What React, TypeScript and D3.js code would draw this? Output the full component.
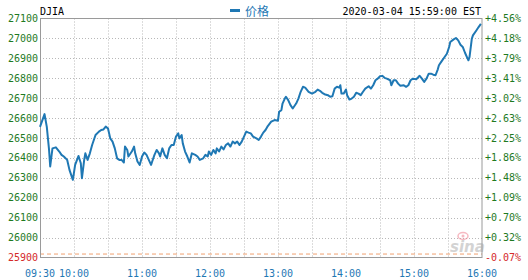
import React from "react";
import * as d3 from "d3";

// minutes since 09:30
const minutes = [0,4,6,8,9,11,14,17,19,21,24,26,29,31,34,36,37,39,40,42,44,46,49,52,54,56,58,60,62,64,66,68,70,72,74,75,77,78,81,83,84,86,88,90,92,94,96,98,99,101,103,105,106,108,110,112,114,116,118,120,122,123,125,126,128,130,132,134,137,139,141,144,146,148,149,151,153,155,156,158,160,162,164,166,168,170,172,174,176,178,180,182,184,186,188,191,193,195,197,199,201,204,207,210,211,213,214,216,217,219,221,223,226,228,230,232,234,237,240,243,245,247,249,251,254,256,258,260,262,264,265,266,268,270,271,273,275,277,279,281,283,285,287,290,292,294,296,298,300,302,304,306,309,310,312,314,316,318,321,323,325,327,329,332,334,335,337,339,341,343,345,347,349,351,352,354,357,359,361,362,365,367,369,371,373,375,377,378,379,381,382,385,387,389];
const prices = [26556,26620,26556,26440,26357,26448,26453,26432,26415,26407,26390,26340,26290,26365,26410,26373,26298,26390,26423,26390,26423,26465,26515,26532,26540,26543,26557,26548,26498,26482,26448,26398,26390,26390,26377,26457,26440,26407,26432,26457,26423,26382,26365,26407,26427,26415,26390,26365,26382,26415,26440,26423,26407,26448,26415,26398,26448,26465,26465,26507,26523,26498,26515,26473,26432,26407,26377,26423,26415,26407,26390,26398,26415,26407,26432,26415,26440,26423,26448,26432,26457,26443,26465,26473,26457,26482,26473,26482,26465,26482,26507,26532,26527,26523,26507,26498,26490,26507,26527,26540,26560,26582,26590,26587,26632,26640,26673,26698,26707,26690,26665,26648,26673,26698,26732,26757,26753,26732,26723,26732,26743,26737,26727,26720,26715,26707,26710,26748,26757,26753,26765,26723,26723,26743,26715,26693,26698,26707,26727,26723,26715,26732,26748,26760,26748,26765,26790,26798,26810,26812,26802,26798,26790,26765,26790,26790,26773,26762,26765,26757,26765,26790,26798,26795,26807,26812,26798,26782,26798,26823,26823,26818,26815,26845,26865,26882,26907,26923,26957,26982,26995,27002,26990,26968,26957,26928,26902,26890,26907,26998,27015,27040,27057,27073];

const prevClose = 25917.41;
const yTicks = [25900,26000,26100,26200,26300,26400,26500,26600,26700,26800,26900,27000,27100];
const xTickMinutes = [0,30,90,150,210,270,330,390];
const xTickLabels = ["09:30","10:00","11:00","12:00","13:00","14:00","15:00","16:00"];
const xGridMinutes = [30,60,90,120,150,180,210,240,270,300,330,360];
const title = "DJIA";
const legendLabel = "价格";
const timestamp = "2020-03-04 15:59:00 EST";

const W = 528, H = 280;
const L = 40, R = 482, T = 18.5, B = 257.5;
const mono = "'DejaVu Sans Mono', 'Liberation Mono', monospace";
const green = "#1f7a1f";
const red = "#d42a2a";
const blue = "#1f78b4";

export default function App() {
  const x = d3.scaleLinear().domain([0, 390]).range([L, R]);
  const y = d3.scaleLinear().domain([25900, 27100]).range([B, T]);
  const data = minutes.map((m, i) => ({ m, v: prices[i] }));
  const line = d3.line<{ m: number; v: number }>().x(d => x(d.m)).y(d => y(d.v));
  const pct = (v: number) => {
    const p = ((v - prevClose) / prevClose) * 100;
    return (p >= 0 ? "+" : "") + p.toFixed(2) + "%";
  };
  return (
    <svg width={W} height={H} style={{ position: "absolute", left: 0, top: 0, background: "#fff" }}>
      <rect x={0} y={0} width={W} height={H} fill="#fff" />
      {/* grid */}
      {yTicks.slice(1, -1).map(t => (
        <line key={"h" + t} x1={L} x2={R} y1={Math.round(y(t)) + 0.5} y2={Math.round(y(t)) + 0.5}
          stroke="#b8b8b8" strokeDasharray="1,2" />
      ))}
      {xGridMinutes.map(m => (
        <line key={"v" + m} x1={Math.round(x(m)) + 0.5} x2={Math.round(x(m)) + 0.5} y1={T} y2={B}
          stroke="#b8b8b8" strokeDasharray="1,2" />
      ))}
      {/* prev close */}
      <line x1={L} x2={R} y1={y(prevClose)} y2={y(prevClose)} stroke="#f0a070" strokeDasharray="4,3" strokeWidth={1} />
      {/* sina watermark */}
      <g opacity={0.55}>
        <ellipse cx={463} cy={236} rx={5} ry={3.5} fill="none" stroke="#f08090" strokeWidth={1.5} />
        <circle cx={463} cy={236} r={1.5} fill="#f08090" />
        <text x={450} y={252} fontFamily="'DejaVu Sans', sans-serif" fontStyle="italic" fontWeight="bold" fontSize={15} fill="#b0b0b0">sina</text>
      </g>
      {/* frame */}
      <rect x={L + 0.5} y={T} width={R - L - 0.5} height={B - T} fill="none" stroke="#9a9a9a" strokeWidth={1} />
      {/* line */}
      <path d={line(data) || ""} fill="none" stroke={blue} strokeWidth={2} strokeLinejoin="round" />
      {/* left labels */}
      {yTicks.map((t, i) => (
        <text key={"l" + t} x={38} y={y(t)} dy="0.35em" textAnchor="end" fontFamily={mono} fontSize={10}
          fill={t < prevClose ? red : green}>{t}</text>
      ))}
      {/* right labels */}
      {yTicks.map(t => (
        <text key={"r" + t} x={485} y={y(t)} dy="0.35em" textAnchor="start" fontFamily={mono} fontSize={10}
          fill={t < prevClose ? red : green}>{pct(t)}</text>
      ))}
      {/* x labels */}
      {xTickMinutes.map((m, i) => (
        <text key={"x" + m} x={x(m)} y={277} textAnchor="middle" fontFamily={mono} fontSize={10} fill={blue}>{xTickLabels[i]}</text>
      ))}
      {/* header */}
      <text x={40} y={15} fontFamily={mono} fontSize={10} fill="#000">{title}</text>
      <rect x={230} y={9} width={10} height={3} fill={blue} />
      <text x={245} y={15.5} fontFamily="'Noto Sans CJK SC', sans-serif" fontSize={12} fill={blue}>{legendLabel}</text>
      <text x={481} y={15} textAnchor="end" fontFamily={mono} fontSize={10} fill="#000">{timestamp}</text>
    </svg>
  );
}
